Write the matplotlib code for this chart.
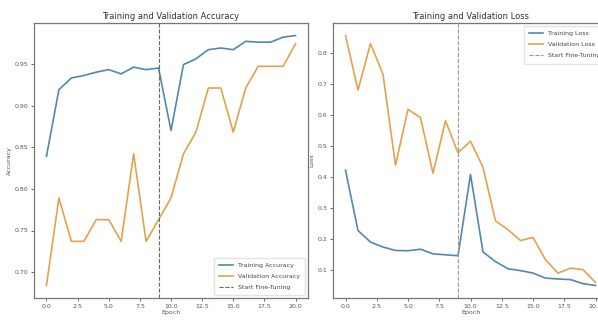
import matplotlib
matplotlib.use("Agg")
import matplotlib.pyplot as plt

epochs = list(range(21))
train_acc = [0.839, 0.919, 0.933, 0.936, 0.940, 0.943, 0.938, 0.946, 0.943, 0.945,
             0.870, 0.949, 0.956, 0.967, 0.969, 0.967, 0.977, 0.976, 0.976, 0.982, 0.984]
val_acc = [0.684, 0.789, 0.737, 0.737, 0.763, 0.763, 0.737, 0.842, 0.737, 0.763,
           0.789, 0.842, 0.868, 0.921, 0.921, 0.868, 0.921, 0.947, 0.947, 0.947, 0.974]
train_loss = [0.421, 0.226, 0.189, 0.173, 0.162, 0.161, 0.166, 0.151, 0.148, 0.145,
              0.407, 0.157, 0.126, 0.103, 0.097, 0.089, 0.073, 0.070, 0.068, 0.055, 0.049]
val_loss = [0.855, 0.679, 0.829, 0.730, 0.437, 0.617, 0.590, 0.411, 0.580, 0.477,
            0.514, 0.430, 0.257, 0.229, 0.194, 0.204, 0.132, 0.089, 0.105, 0.100, 0.059]
fine_tune_epoch = 9

plt.rcParams['font.family'] = ['Liberation Sans Narrow', 'DejaVu Sans']
blue = '#5088b0'
orange = '#e3a24c'

fig = plt.figure(figsize=(5.98, 3.2), dpi=100)
ax1 = fig.add_axes([34/598, 22/320, 274/598, 275/320])
ax2 = fig.add_axes([333/598, 22/320, 275/598, 275/320])

def style(ax):
    for s in ax.spines.values():
        s.set_color('#777777')
        s.set_linewidth(0.9)
    ax.tick_params(labelsize=4.5, length=2, width=0.6, colors='#555555', pad=2)

ax1.plot(epochs, train_acc, color=blue, lw=1.2, label='Training Accuracy')
ax1.plot(epochs, val_acc, color=orange, lw=1.2, label='Validation Accuracy')
ax1.axvline(fine_tune_epoch, color='#666666', ls='--', lw=0.8, label='Start Fine-Tuning')
ax1.set_title('Training and Validation Accuracy', fontsize=6, pad=3, color='#333333')
ax1.set_xlabel('Epoch', fontsize=4.5, labelpad=1, color='#555555')
ax1.set_ylabel('Accuracy', fontsize=4.5, labelpad=2, color='#555555')
ax1.set_xticks([0, 2.5, 5, 7.5, 10, 12.5, 15, 17.5, 20])
ax1.set_yticks([0.70, 0.75, 0.80, 0.85, 0.90, 0.95])
style(ax1)
ax1.legend(loc='lower right', fontsize=4.5, frameon=True, edgecolor='#dddddd',
           handlelength=2.2, borderpad=0.8, labelspacing=0.9, labelcolor='#444444')

ax2.plot(epochs, train_loss, color=blue, lw=1.2, label='Training Loss')
ax2.plot(epochs, val_loss, color=orange, lw=1.2, label='Validation Loss')
ax2.axvline(fine_tune_epoch, color='#999999', ls='--', lw=0.8, label='Start Fine-Tuning')
ax2.set_title('Training and Validation Loss', fontsize=6, pad=3, color='#333333')
ax2.set_xlabel('Epoch', fontsize=4.5, labelpad=1, color='#555555')
ax2.set_ylabel('Loss', fontsize=4.5, labelpad=2, color='#555555')
ax2.set_xticks([0, 2.5, 5, 7.5, 10, 12.5, 15, 17.5, 20])
ax2.set_yticks([0.1, 0.2, 0.3, 0.4, 0.5, 0.6, 0.7, 0.8])
style(ax2)
ax2.legend(loc='upper right', fontsize=4.5, frameon=True, edgecolor='#dddddd',
           handlelength=2.2, borderpad=0.8, labelspacing=0.9, labelcolor='#444444')

fig.savefig('out.png', dpi=100)
